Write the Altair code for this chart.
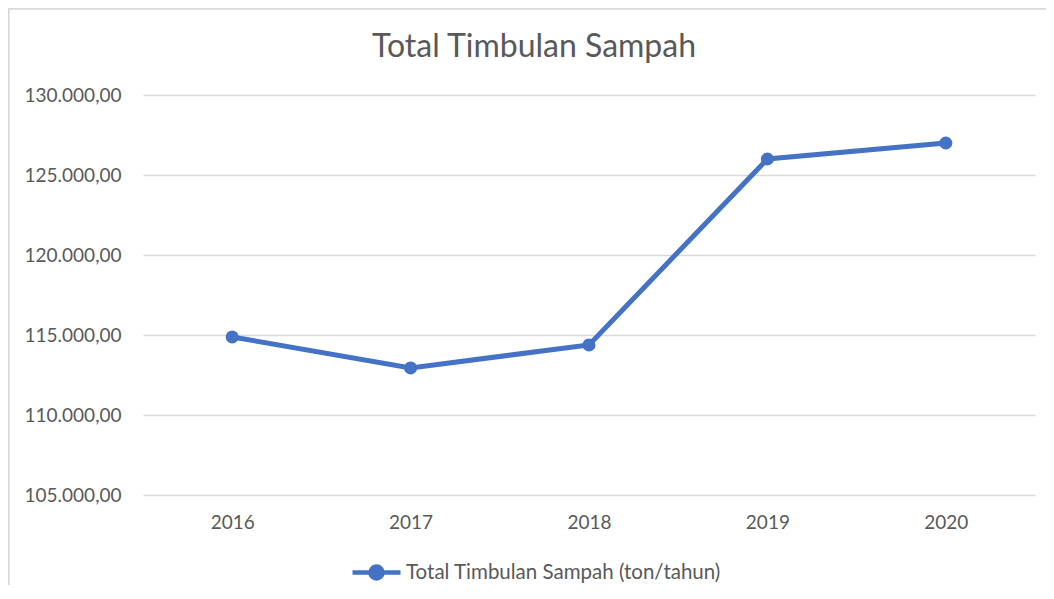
import altair as alt
import pandas as pd

years = ["2016", "2017", "2018", "2019", "2020"]
values = [114880, 112940, 114380, 126000, 127000]
series_name = "Total Timbulan Sampah (ton/tahun)"
title_text = "Total Timbulan Sampah"
y_ticks = [105000, 110000, 115000, 120000, 125000, 130000]

df = pd.DataFrame({"year": years, "value": values, "series": [series_name] * len(years)})

FONT = "Lato"
TXT = "#595959"
BLUE = "#4472C4"

label_expr = ("replace(replace(replace(format(datum.value, ',.2f'), ',', '#'), '.', ','), '#', '.')")

x = alt.X("year:N", title=None,
          axis=alt.Axis(labelAngle=0, domain=False, ticks=False, labelFontSize=19,
                        labelColor=TXT, labelFont=FONT, labelPadding=18))
y = alt.Y("value:Q", title=None,
          scale=alt.Scale(domain=[105000, 130000], nice=False, zero=False),
          axis=alt.Axis(values=y_ticks, labelExpr=label_expr, domain=False, ticks=False,
                        grid=True, gridColor="#D9D9D9", gridWidth=1.3, labelFontSize=19,
                        labelColor=TXT, labelFont=FONT, labelPadding=22))

legend_symbol = "M-1,0H1M-0.25,0A0.25,0.25,0,1,1,0.25,0A0.25,0.25,0,1,1,-0.25,0Z"

color = alt.Color("series:N", title=None,
                  scale=alt.Scale(domain=[series_name], range=[BLUE]),
                  legend=alt.Legend(orient="none", legendX=207, legendY=451,
                                    symbolType=legend_symbol, symbolSize=2304,
                                    symbolStrokeWidth=4.5, symbolFillColor=BLUE,
                                    symbolStrokeColor=BLUE, labelFontSize=20.5,
                                    labelFont=FONT, labelColor=TXT, labelOffset=3,
                                    labelLimit=0, padding=0))

line = alt.Chart(df).mark_line(strokeWidth=5).encode(x=x, y=y, color=color)
pts = alt.Chart(df).mark_point(filled=True, size=170, opacity=1).encode(
    x=x, y=y,
    color=alt.Color("series:N", scale=alt.Scale(domain=[series_name], range=[BLUE]), legend=None))

border = alt.Chart(df).mark_rect(fill=None, stroke="#D9D9D9", strokeWidth=1.5).encode(
    x=alt.value(-134.5), x2=alt.value(1000), y=alt.value(-86.5), y2=alt.value(600))

title = alt.Chart(pd.DataFrame({"t": [title_text]})).mark_text(
    font=FONT, fontSize=32, color=TXT, align="center", baseline="alphabetic").encode(
    text="t:N", x=alt.value(391), y=alt.value(-38))

chart = alt.layer(border, line, pts, title).properties(
    width=892, height=400,
    padding={"left": 135, "top": 87, "right": 11, "bottom": 90},
    autosize=alt.AutoSizeParams(type="none"),
).configure_view(stroke=None)

chart.save("out.html", embed_options={"renderer": "svg", "actions": False})
